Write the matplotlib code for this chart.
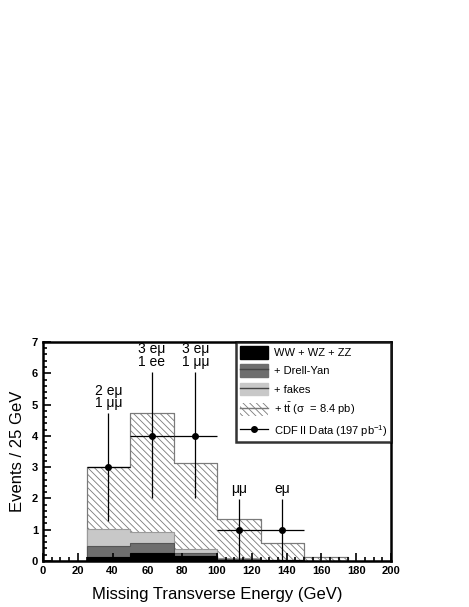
import numpy as np
import matplotlib
matplotlib.use('Agg')
import matplotlib.pyplot as plt
from matplotlib.patches import Patch
from matplotlib.lines import Line2D
from matplotlib.ticker import MultipleLocator

plt.rcParams['font.family'] = ['Liberation Sans', 'DejaVu Sans']
plt.rcParams['mathtext.fontset'] = 'custom'
plt.rcParams['mathtext.rm'] = 'Liberation Sans'
plt.rcParams['mathtext.it'] = 'Liberation Sans'
plt.rcParams['hatch.linewidth'] = 0.6

# bins of 25 GeV
bin_edges = [0, 25, 50, 75, 100, 125, 150, 175, 200]
# stacked (cumulative) predictions per bin
diboson   = [0.0, 0.12, 0.25, 0.16, 0.04, 0.02, 0.0, 0.0]
drellyan  = [0.0, 0.49, 0.58, 0.25, 0.07, 0.03, 0.0, 0.0]
fakes     = [0.0, 1.02, 0.93, 0.37, 0.10, 0.04, 0.0, 0.0]
ttbar     = [0.0, 3.0, 4.72, 3.12, 1.34, 0.56, 0.12, 0.0]

# data points
data_x    = [37.5, 62.5, 87.5, 112.5, 137.5]
data_y    = [3, 4, 4, 1, 1]
data_lo   = [1.27, 2.0, 2.0, 0.0, 0.0]
data_hi   = [4.73, 6.05, 6.05, 1.98, 1.98]
data_lbl  = ['2 e\u03bc\n1 \u03bc\u03bc', '3 e\u03bc\n1 ee', '3 e\u03bc\n1 \u03bc\u03bc',
             '\u03bc\u03bc', 'e\u03bc']

fig = plt.figure(figsize=(4.69, 6.07), dpi=100)
ax = fig.add_axes([0.0917, 0.0758, 0.742, 0.3608])

edges = np.array(bin_edges)
def step(vals, **kw):
    return ax.stairs(vals, edges, **kw)

step(ttbar, fill=True, facecolor='white', edgecolor='#7a7a7a', hatch='\\\\\\\\\\', lw=0.8)
step(ttbar, fill=False, edgecolor='#7a7a7a', lw=0.8)
step(fakes, fill=True, facecolor='#c8c8c8', edgecolor='#9a9a9a', lw=0.8)
step(drellyan, fill=True, facecolor='#6e6e6e', edgecolor='#555555', lw=0.8)
step(diboson, fill=True, facecolor='black', edgecolor='black', lw=0.8)

yerr = [np.array(data_y) - np.array(data_lo), np.array(data_hi) - np.array(data_y)]
ax.errorbar(data_x, data_y, xerr=12.5, yerr=yerr, fmt='o', color='black',
            ms=4, lw=0.9, capsize=0, zorder=5)

for x, y, t in zip(data_x, data_hi, data_lbl):
    ax.text(x, y + 0.1, t, ha='center', va='bottom', fontsize=10,
            linespacing=0.85)

ax.set_xlim(0, 200)
ax.set_ylim(0, 7)
ax.xaxis.set_major_locator(MultipleLocator(20))
ax.xaxis.set_minor_locator(MultipleLocator(5))
ax.yaxis.set_major_locator(MultipleLocator(1))
ax.yaxis.set_minor_locator(MultipleLocator(0.2))
ax.tick_params(which='both', direction='in', top=False, right=False, width=1.2)
ax.tick_params(which='major', length=6, labelsize=8)
ax.tick_params(which='minor', length=3)
for lab in ax.get_xticklabels() + ax.get_yticklabels():
    lab.set_fontweight('bold')
for s in ax.spines.values():
    s.set_linewidth(1.8)

ax.set_xlabel('Missing Transverse Energy (GeV)', fontsize=12, labelpad=8)
ax.set_ylabel('Events / 25 GeV', fontsize=12, labelpad=5)

handles = [
    Patch(facecolor='black', edgecolor='black'),
    (Patch(facecolor='#6e6e6e', edgecolor='#6e6e6e'), Line2D([], [], color='#444444', lw=1)),
    (Patch(facecolor='#c8c8c8', edgecolor='#c8c8c8'), Line2D([], [], color='#444444', lw=1)),
    (Patch(facecolor='white', edgecolor='#7a7a7a', hatch='\\\\\\\\\\', lw=0), Line2D([], [], color='#7a7a7a', lw=1)),
    Line2D([], [], color='black', marker='o', ms=4, lw=0.9),
]
labels = ['WW + WZ + ZZ', '+ Drell-Yan', '+ fakes',
          '+ t$\\bar{\\mathrm{t}}$ (\u03c3  = 8.4 pb)', 'CDF II Data (197 pb$^{\\mathrm{-1}}$)']
leg = ax.legend(handles, labels, loc='upper right', fontsize=8, frameon=True,
                fancybox=False, edgecolor='black', borderaxespad=0,
                handlelength=2.5, handleheight=1.4, labelspacing=0.5,
                borderpad=0.35, handletextpad=0.5)
leg.get_frame().set_linewidth(1.8)

fig.savefig('out.png', dpi=100)
